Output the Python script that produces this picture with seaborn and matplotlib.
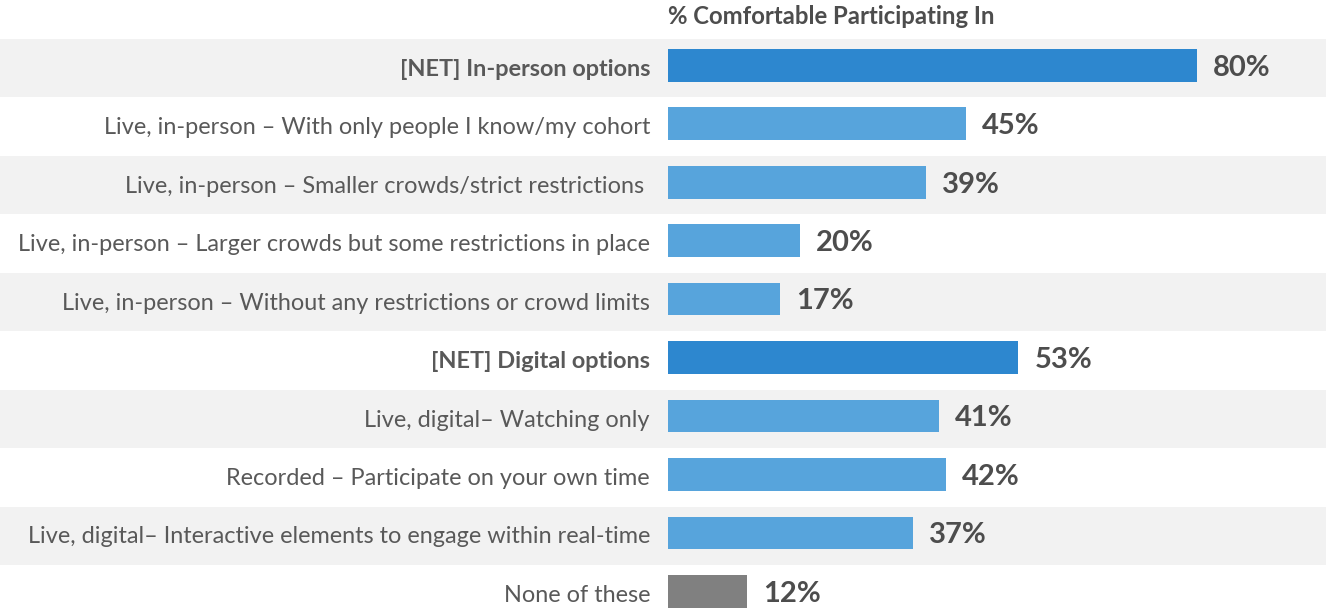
import matplotlib
matplotlib.use("Agg")
import matplotlib.pyplot as plt
import seaborn as sns
import pandas as pd

# Survey responses: share comfortable participating in each event format
categories = [
    "[NET] In-person options",
    "Live, in-person \u2013 With only people I know/my cohort",
    "Live, in-person \u2013 Smaller crowds/strict restrictions ",
    "Live, in-person \u2013 Larger crowds but some restrictions in place",
    "Live, in-person \u2013 Without any restrictions or crowd limits",
    "[NET] Digital options",
    "Live, digital\u2013 Watching only",
    "Recorded \u2013 Participate on your own time",
    "Live, digital\u2013 Interactive elements to engage within real-time",
    "None of these",
]
values = [80, 45, 39, 20, 17, 53, 41, 42, 37, 12]
is_net = [True, False, False, False, False, True, False, False, False, False]
title = "% Comfortable Participating In"

NET_BLUE = "#2d87cf"
SUB_BLUE = "#57a4dc"
NONE_GREY = "#808080"
BAND = "#f2f2f2"
TEXT = "#595959"
VALUE_TEXT = "#4d4d4d"

colors = [NET_BLUE if n else (NONE_GREY if c == "None of these" else SUB_BLUE)
          for c, n in zip(categories, is_net)]

df = pd.DataFrame({"category": categories, "value": values})

sns.set_theme(style="white")
plt.rcParams["font.family"] = ["Lato", "DejaVu Sans"]

W, H = 1326, 613
fig = plt.figure(figsize=(W / 100, H / 100), dpi=100)
row_px = 58.45
first_center_px = 65.3
top_px = first_center_px - row_px / 2
bottom_px = top_px + row_px * len(categories)
ax = fig.add_axes([0, 1 - bottom_px / H, 1, (bottom_px - top_px) / H])

px_per_unit = (1197 - 668) / 80.0
x0_px = 668
ax.set_xlim(-x0_px / px_per_unit, (W - x0_px) / px_per_unit)
ax.set_ylim(len(categories) - 0.5, -0.5)

# alternating row bands (sit slightly below the bar centres)
for i in range(0, len(categories), 2):
    ax.axhspan(i - 0.45, i + 0.55, color=BAND, zorder=0, lw=0)

sns.barplot(data=df, x="value", y="category", hue="category", palette=colors,
            orient="h", width=0.56, legend=False, ax=ax, zorder=2,
            saturation=1, linewidth=0, edgecolor="none")

label_gap = 18 / px_per_unit
val_gap = 16 / px_per_unit
for i, (cat, v, net) in enumerate(zip(categories, values, is_net)):
    ax.text(-label_gap, i + 0.07, cat, ha="right", va="center", fontsize=16.9,
            color=TEXT, fontweight="bold" if net else "normal")
    ax.text(v + val_gap, i + 0.04, f"{v}%", ha="left", va="center", fontsize=21,
            color=VALUE_TEXT, fontweight="bold")

fig.text(x0_px / W, 1 - 17 / H, title, ha="left", va="center", fontsize=17.2,
         fontweight="bold", color=VALUE_TEXT)

ax.set_yticks([])
ax.set_xticks([])
ax.set_xlabel("")
ax.set_ylabel("")
for s in ax.spines.values():
    s.set_visible(False)
ax.patch.set_alpha(0)

fig.savefig("out.png", dpi=100, facecolor="white")
